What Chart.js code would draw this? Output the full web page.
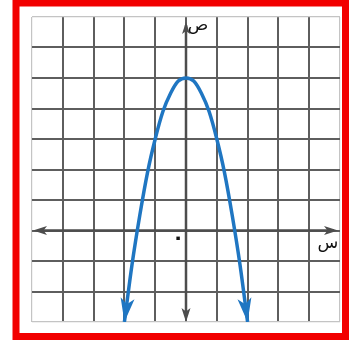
<!DOCTYPE html>
<html>
<head>
<meta charset="utf-8">
<script src="https://cdn.jsdelivr.net/npm/chart.js@4.4.1/dist/chart.umd.min.js"></script>
<style>
  html, body { margin: 0; padding: 0; background: #fff; }
</style>
</head>
<body>
<canvas id="myChart" width="350" height="345"></canvas>
<script>
// points (x, y)
const xValues = [-2, -1.75, -1.5, -1.25, -1, -0.75, -0.5, -0.25, 0, 0.25, 0.5, 0.75, 1, 1.25, 1.5, 1.75, 2]
const yValues = [-3, -1.1, 0.5, 1.9, 3, 3.9, 4.5, 4.9, 5, 4.9, 4.5, 3.9, 3, 1.9, 0.5, -1.1, -3]

const xRange = [-5, 5]
const yRange = [-3, 7]
const xLabel = 'س'
const yLabel = 'ص'
const originLabel = '٠'

const ctx = document.querySelector('#myChart').getContext('2d')

function arrowHead(c, tipX, tipY, dx, dy, len, half, color) {
    const n = Math.hypot(dx, dy)
    const ux = dx / n, uy = dy / n
    const bx = tipX - ux * len, by = tipY - uy * len
    c.beginPath()
    c.moveTo(tipX, tipY)
    c.lineTo(bx - uy * half, by + ux * half)
    c.lineTo(tipX - ux * len * 0.75, tipY - uy * len * 0.75)
    c.lineTo(bx + uy * half, by - ux * half)
    c.closePath()
    c.fillStyle = color
    c.fill()
}

const plugin = {
    id: 'graphExtras',
    beforeDraw: (chart) => {
        const {ctx} = chart
        ctx.save()
        ctx.fillStyle = '#fff'
        ctx.fillRect(0, 0, chart.width, chart.height)
        ctx.restore()
    },
    beforeDatasetsDraw: (chart) => {
        const {ctx, scales: {x, y}, chartArea} = chart
        const axisColor = '#4d4d4d'
        const x0 = x.getPixelForValue(0)
        const y0 = y.getPixelForValue(0)
        ctx.save()
        ctx.strokeStyle = axisColor
        ctx.lineWidth = 2.5
        ctx.beginPath()
        ctx.moveTo(chartArea.left + 6, y0)
        ctx.lineTo(chartArea.right - 6, y0)
        ctx.moveTo(x0, chartArea.top + 8)
        ctx.lineTo(x0, chartArea.bottom - 6)
        ctx.stroke()
        arrowHead(ctx, chartArea.left + 1, y0, -1, 0, 14, 4.5, axisColor)
        arrowHead(ctx, chartArea.right - 2, y0, 1, 0, 14, 4.5, axisColor)
        arrowHead(ctx, x0, chartArea.top + 5, 0, -1, 12, 4, axisColor)
        arrowHead(ctx, x0, chartArea.bottom, 0, 1, 14, 4.5, axisColor)
        ctx.restore()
    },
    afterDatasetsDraw: (chart) => {
        const {ctx, scales: {x, y}} = chart
        const blue = '#1f76c2'
        const n = xValues.length
        // arrows at both ends of the curve
        const ends = [[0, 1], [n - 1, n - 2]]
        ctx.save()
        ends.forEach(([i, j]) => {
            const tx = x.getPixelForValue(xValues[i]), ty = y.getPixelForValue(yValues[i])
            const px = x.getPixelForValue(xValues[j]), py = y.getPixelForValue(yValues[j])
            arrowHead(ctx, tx, ty, tx - px, ty - py, 24, 7, blue)
        })
        ctx.fillStyle = '#111'
        ctx.font = '17px "DejaVu Sans"'
        ctx.textAlign = 'center'
        ctx.textBaseline = 'middle'
        ctx.fillText(yLabel, x.getPixelForValue(0) + 12, y.getPixelForValue(7) + 9)
        ctx.fillText(xLabel, x.getPixelForValue(5) - 12, y.getPixelForValue(0) + 13)
        ctx.font = 'bold 20px "DejaVu Sans"'
        ctx.fillText(originLabel, x.getPixelForValue(0) - 8, y.getPixelForValue(0) + 8)
        // red frame
        ctx.strokeStyle = '#f20000'
        ctx.lineWidth = 7
        ctx.strokeRect(16, 3, 329.5, 333.5)
        ctx.restore()
    }
}

const edgeOrInner = (light, dark) => (c) => {
    const v = c.tick.value
    const s = c.scale
    return (v === s.min || v === s.max) ? light : dark
}

const data = {
    labels: xValues,
    datasets: [{
        data: xValues.map((v, i) => ({x: v, y: yValues[i]})),
        borderColor: '#1f76c2',
        borderWidth: 3.5,
        pointRadius: 0,
        fill: false,
        cubicInterpolationMode: 'monotone',
    }]
}

const config = {
    type: 'line',
    data: data,
    plugins: [plugin],
    options: {
        responsive: false,
        animation: false,
        layout: {
            padding: {left: 32, right: 10, top: 17, bottom: 23}
        },
        scales: {
            x: {
                type: 'linear',
                min: xRange[0],
                max: xRange[1],
                ticks: {display: false, stepSize: 1},
                border: {display: false},
                grid: {
                    drawTicks: false,
                    color: edgeOrInner('#c4c4c4', '#5e5e5e'),
                    lineWidth: edgeOrInner(1.2, 2),
                }
            },
            y: {
                type: 'linear',
                min: yRange[0],
                max: yRange[1],
                ticks: {display: false, stepSize: 1},
                border: {display: false},
                grid: {
                    drawTicks: false,
                    color: edgeOrInner('#c4c4c4', '#5e5e5e'),
                    lineWidth: edgeOrInner(1.2, 2),
                }
            }
        },
        plugins: {
            legend: {display: false},
            tooltip: {enabled: false},
        }
    }
}

const myChart = new Chart(ctx, config)
</script>
</body>
</html>
